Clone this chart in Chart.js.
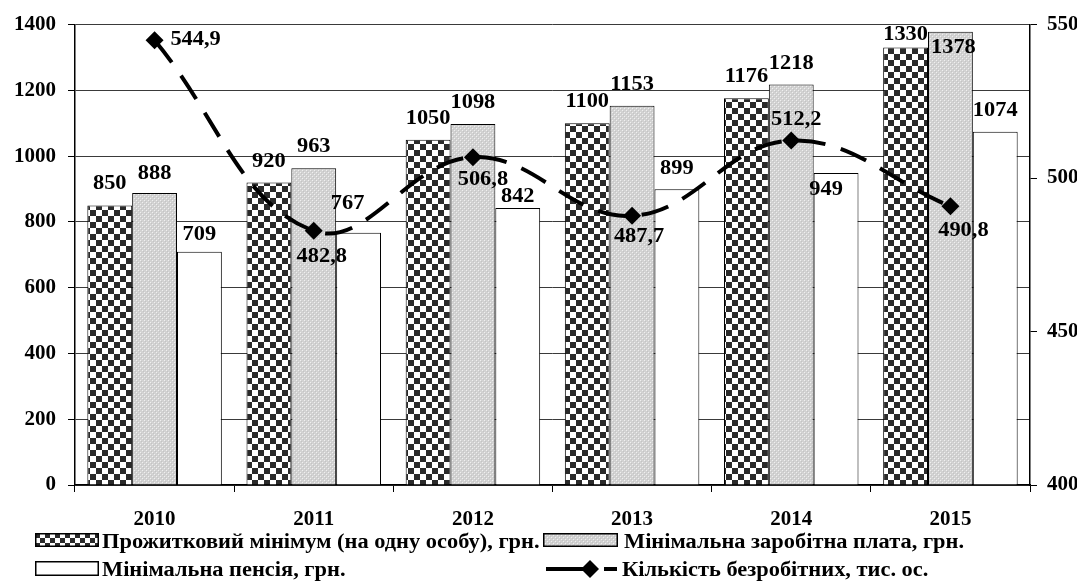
<!DOCTYPE html>
<html><head><meta charset="utf-8">
<script src="https://cdn.jsdelivr.net/npm/chart.js@4.4.0/dist/chart.umd.min.js"></script>
<style>
html,body{margin:0;padding:0;background:#fff;}
#wrap{position:relative;width:1085px;height:583px;overflow:hidden;background:#fff;}
#c{position:absolute;left:0;top:0;}
.lt{position:absolute;font:bold 20px "Liberation Serif","Times New Roman",serif;color:#000;white-space:nowrap;line-height:22px;transform:scaleX(1.12);transform-origin:0 50%;}
.sw{position:absolute;}
</style></head><body>
<div id="wrap"><canvas id="c" width="1085" height="583"></canvas></div>
<script>
// ---- data ----
const categories = ['2010', '2011', '2012', '2013', '2014', '2015'];
const livingWage = [850, 920, 1050, 1100, 1176, 1330];
const minWage = [888, 963, 1098, 1153, 1218, 1378];
const minPension = [709, 767, 842, 899, 949, 1074];
const unemployed = [544.9, 482.8, 506.8, 487.7, 512.2, 490.8];
const leftTicks = [0, 200, 400, 600, 800, 1000, 1200, 1400];
const rightTicks = [400, 450, 500, 550];
const seriesNames = [
  'Прожитковий мінімум (на одну особу), грн.',
  'Мінімальна заробітна плата, грн.',
  'Мінімальна пенсія, грн.',
  'Кількість безробітних, тис. ос.'
];

// ---- label placement (dataset index : point index -> [dx, dy]) ----
const labelOffsets = {
  '0:0': [0, -22], '0:5': [0, -13],
  '1:0': [0, -19], '1:5': [3, 16],
  '2:0': [0, -17], '2:1': [-11, -29], '2:2': [0, -11], '2:4': [-10, 17],
  '3:0': [41, 0], '3:1': [8, 26], '3:2': [10, 23], '3:3': [7, 21], '3:4': [5, -21], '3:5': [13, 25]
};
const FONT = '"Liberation Serif","Times New Roman",serif';

function checker(ctx, size, dark) {
  const c = document.createElement('canvas');
  c.width = c.height = size * 2;
  const x = c.getContext('2d');
  x.fillStyle = '#fff'; x.fillRect(0, 0, size * 2, size * 2);
  x.fillStyle = dark;
  x.fillRect(0, 0, size, size); x.fillRect(size, size, size, size);
  return ctx.createPattern(c, 'repeat');
}
function greyDots(ctx) {
  const c = document.createElement('canvas');
  c.width = c.height = 4;
  const x = c.getContext('2d');
  x.fillStyle = '#d2d2d2'; x.fillRect(0, 0, 4, 4);
  x.fillStyle = '#f0f0f0';
  x.fillRect(0, 0, 1, 1); x.fillRect(2, 2, 1, 1);
  x.fillStyle = '#c4c4c4';
  x.fillRect(1, 1, 1, 1); x.fillRect(3, 3, 1, 1);
  return ctx.createPattern(c, 'repeat');
}

const canvas = document.getElementById('c');
const ctx = canvas.getContext('2d');
const patChecker = checker(ctx, 6, '#2a2a2a');
const patGrey = greyDots(ctx);

function fmt(di, v) {
  return di === 3 ? v.toFixed(1).replace('.', ',') : String(v);
}

const labelPlugin = {
  id: 'valueLabels',
  afterDatasetsDraw(chart) {
    const c = chart.ctx;
    chart.data.datasets.forEach((ds, di) => {
      const meta = chart.getDatasetMeta(di);
      meta.data.forEach((el, j) => {
        const off = labelOffsets[di + ':' + j] || (di === 3 ? [0, -22] : [0, -21]);
        const p = el.getProps(['x', 'y'], true);
        c.save();
        c.translate(p.x + off[0], p.y + off[1]);
        c.scale(1.12, 1);
        c.font = 'bold 20px ' + FONT;
        c.fillStyle = '#000';
        c.textAlign = 'center';
        c.textBaseline = 'middle';
        c.fillText(fmt(di, ds.data[j]), 0, 0);
        c.restore();
      });
    });
  }
};

const tickFont = { family: FONT, size: 21, weight: 'bold' };

new Chart(canvas, {
  data: {
    labels: categories,
    datasets: [
      { type: 'bar', label: seriesNames[0], data: livingWage, backgroundColor: patChecker, borderColor: '#000', borderWidth: 1, yAxisID: 'y', order: 1 },
      { type: 'bar', label: seriesNames[1], data: minWage, backgroundColor: patGrey, borderColor: '#000', borderWidth: 1, yAxisID: 'y', order: 1 },
      { type: 'bar', label: seriesNames[2], data: minPension, backgroundColor: '#fff', borderColor: '#000', borderWidth: 1, yAxisID: 'y', order: 1 },
      { type: 'line', label: seriesNames[3], data: unemployed, yAxisID: 'y2', order: 0,
        borderColor: '#000', borderWidth: 4, borderDash: [28, 16], tension: 0.4,
        pointStyle: 'rectRot', pointRadius: 9, pointBackgroundColor: '#000', pointBorderColor: '#000', pointBorderWidth: 0, fill: false }
    ]
  },
  options: {
    responsive: false,
    animation: false,
    devicePixelRatio: 1,
    layout: { padding: { top: 22, left: 10, right: 8, bottom: 54 } },
    plugins: { legend: { display: false }, tooltip: { enabled: false } },
    datasets: { bar: { categoryPercentage: 0.845, barPercentage: 1.0 } },
    scales: {
      x: {
        grid: { display: true, drawOnChartArea: false, drawTicks: true, tickLength: 7, color: '#000', offset: true },
        border: { display: true, color: '#000', width: 1.5 },
        ticks: { font: tickFont, color: '#000', padding: 15, maxRotation: 0 },
        afterFit(s) { s.height = 44; }
      },
      y: {
        position: 'left', min: 0, max: 1400,
        afterBuildTicks(s) { s.ticks = leftTicks.map(v => ({ value: v })); },
        grid: { color: '#3a3a3a', lineWidth: 1, tickLength: 7, tickColor: '#000' },
        border: { display: true, color: '#000', width: 1.5 },
        ticks: { font: tickFont, color: '#000', padding: 12, callback: v => String(v) },
        afterFit(s) { s.width = 65; }
      },
      y2: {
        position: 'right', min: 400, max: 550,
        afterBuildTicks(s) { s.ticks = rightTicks.map(v => ({ value: v })); },
        grid: { drawOnChartArea: false, tickLength: 7, color: '#000' },
        border: { display: true, color: '#000', width: 1.5 },
        ticks: { font: tickFont, color: '#000', padding: 10, callback: v => String(v) },
        afterFit(s) { s.width = 47; }
      }
    }
  },
  plugins: [labelPlugin]
});

// ---- HTML legend ----
const wrap = document.getElementById('wrap');
function swatch(left, top, w, h, draw) {
  const s = document.createElement('canvas');
  s.width = w; s.height = h; s.className = 'sw';
  s.style.left = left + 'px'; s.style.top = top + 'px';
  draw(s.getContext('2d'), w, h);
  wrap.appendChild(s);
}
function text(left, cy, t) {
  const d = document.createElement('div');
  d.className = 'lt'; d.textContent = t;
  d.style.left = left + 'px'; d.style.top = (cy - 11) + 'px';
  wrap.appendChild(d);
}
function boxSw(pattern) {
  return (g, w, h) => {
    g.fillStyle = pattern(g); g.fillRect(0, 0, w, h);
    g.strokeStyle = '#000'; g.lineWidth = 1.5; g.strokeRect(0.75, 0.75, w - 1.5, h - 1.5);
  };
}
swatch(35, 533, 64, 14, boxSw(g => checker(g, 5, '#2a2a2a')));
text(102, 541, seriesNames[0]);
swatch(543, 533, 75, 14, boxSw(g => greyDots(g)));
text(624, 541, seriesNames[1]);
swatch(35, 561, 64, 15, boxSw(() => '#fff'));
text(102, 569, seriesNames[2]);
swatch(546, 559, 72, 20, (g, w, h) => {
  g.fillStyle = '#000';
  g.fillRect(0, 8, 40, 4);
  g.beginPath(); g.moveTo(44, 1); g.lineTo(53, 10); g.lineTo(44, 19); g.lineTo(35, 10); g.closePath(); g.fill();
  g.fillRect(58, 8, 13, 4);
});
text(622, 569, seriesNames[3]);
</script>
</body></html>
